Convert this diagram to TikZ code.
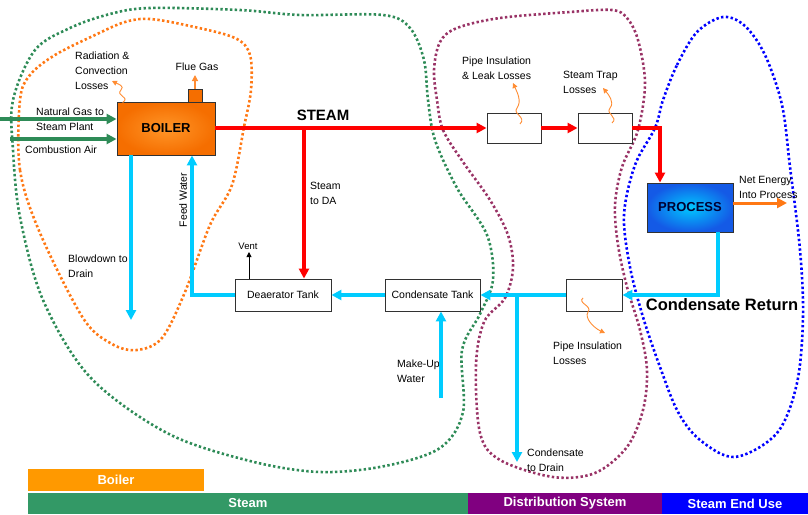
\documentclass[tikz,border=0pt]{standalone}
\usepackage{fontspec}
\setmainfont{Liberation Sans}
\usetikzlibrary{arrows.meta}
\definecolor{cgreen}{RGB}{46,139,87}
\definecolor{corange}{RGB}{255,120,20}
\definecolor{cpurple}{RGB}{153,51,102}
\definecolor{cblue}{RGB}{0,0,255}
\definecolor{ccyan}{RGB}{0,204,255}
\definecolor{cred}{RGB}{255,0,0}
\definecolor{closs}{RGB}{255,140,50}
\definecolor{boxgray}{RGB}{50,50,50}
\definecolor{barorange}{RGB}{255,153,0}
\definecolor{bargreen}{RGB}{51,153,102}
\definecolor{barpurple}{RGB}{128,0,128}
\definecolor{barblue}{RGB}{0,0,255}
\begin{document}
\begin{tikzpicture}[x=1pt,y=-1pt,
  lbl/.style={font=\fontsize{10.5}{15}\selectfont, align=left, inner sep=0pt, anchor=west},
  clbl/.style={font=\fontsize{10.5}{15}\selectfont, align=center, inner sep=0pt},
  tank/.style={draw=boxgray, line width=0.9pt, fill=white, inner sep=0pt, font=\fontsize{10.5}{12}\selectfont},
  pipe/.style={line width=3.5pt},
  tip/.style={-{Triangle[length=10pt,width=10pt]}},
  region/.style={line width=2.6pt, dash pattern=on 2.4pt off 2.4pt},
  loss/.style={draw=closs, line width=0.9pt, -{Triangle[length=5pt,width=5pt]}},
  bar/.style={inner sep=0pt, text=white, font=\bfseries\fontsize{13}{15}\selectfont}
]
\useasboundingbox (0,0) rectangle (808,514);

% ---------- dotted regions ----------
\draw[region, draw=cgreen] plot[smooth cycle, tension=0.55] coordinates {
 (13,100) (13,150) (20,217) (43,300) (90,377) (167,433) (250,461) (320,472) (385,466)
 (440,448) (463,412) (462,350) (480,314) (493,280) (487,235) (457,188) (435,140)
 (428,100) (424,60) (410,28) (383,15) (300,15) (240,10) (150,8) (110,14) (70,28) (35,50)};
\draw[region, draw=corange] plot[smooth cycle, tension=0.55] coordinates {
 (20,100) (20,170) (40,233) (83,318) (112,344) (137,350) (162,338) (185,292) (210,225)
 (232,185) (244,127) (251,90) (250,55) (235,38) (190,26) (150,19) (125,22) (95,35) (55,55) (30,75)};
\draw[region, draw=cpurple] plot[smooth cycle, tension=0.55] coordinates {
 (437,100) (443,130) (463,162) (490,200) (508,235) (513,268) (505,298) (484,322) (476,365)
 (480,433) (500,460) (553,477) (595,473) (627,447) (643,410) (647,370) (640,330)
 (627,287) (618,245) (615,205) (622,167) (638,130) (645,83) (638,40) (627,18) (612,10)
 (570,12) (500,18) (457,28) (440,42) (434,70)};
\draw[region, draw=cblue] plot[smooth cycle, tension=0.55] coordinates {
 (663,100) (677,65) (697,32) (723,17) (745,26) (765,55) (782,105) (790,167) (800,250)
 (803,317) (797,383) (777,433) (735,457) (700,440) (678,412) (660,367) (643,317)
 (630,267) (624,215) (635,165) (655,128)};

% ---------- nodes ----------
\node[draw=boxgray, line width=0.9pt, inner color={rgb,255:red,255;green,150;blue,40},
      outer color={rgb,255:red,245;green,110;blue,0}, minimum width=98pt, minimum height=53pt,
      inner sep=0pt, font=\bfseries\fontsize{13}{15}\selectfont] (boiler) at (166,128.5) {BOILER};
\node[draw=boxgray, line width=0.9pt, fill={rgb,255:red,245;green,110;blue,0},
      minimum width=14pt, minimum height=13pt, inner sep=0pt] (chim) at (195,95.5) {};
\node[draw=boxgray, line width=0.9pt, inner color={rgb,255:red,0;green,200;blue,255},
      outer color={rgb,255:red,20;green,90;blue,230}, minimum width=86pt, minimum height=49pt,
      inner sep=0pt, text={rgb,255:red,0;green,0;blue,50}, font=\bfseries\fontsize{13}{15}\selectfont] (proc) at (690,207.5) {PROCESS};
\node[tank, minimum width=96pt, minimum height=32pt] (da) at (283,295) {Deaerator Tank};
\node[tank, minimum width=95pt, minimum height=32pt] (ct) at (432.5,295) {Condensate Tank};
\node[tank, minimum width=54pt, minimum height=30pt] (p1) at (514,128) {};
\node[tank, minimum width=54pt, minimum height=30pt] (p2) at (605,128) {};
\node[tank, minimum width=56pt, minimum height=32pt] (p3) at (594,295) {};

% ---------- labels ----------
\node[lbl] (trad) at (75,71) {Radiation \&\\Convection\\Losses};
\node[clbl] (tflue) at (197,67) {Flue Gas};
\node[lbl] (tng) at (36,119.5) {Natural Gas to\\Steam Plant};
\node[lbl] (tca) at (25,150) {Combustion Air};
\node[inner sep=0pt, font=\bfseries\fontsize{15}{17}\selectfont] (tsteam) at (323,115) {STEAM};
\node[lbl] (tsda) at (310,193.5) {Steam\\to DA};
\node[clbl, rotate=90] (tfw) at (183,200) {Feed Water};
\node[clbl, font=\fontsize{9.5}{11}\selectfont] (tvent) at (248,246) {Vent};
\node[lbl] (tbd) at (68,266.5) {Blowdown to\\Drain};
\node[lbl] (tmu) at (397,371) {Make-Up\\Water};
\node[lbl] (tcd) at (527,460) {Condensate\\to Drain};
\node[lbl] (tpil) at (553,353.5) {Pipe Insulation\\Losses};
\node[inner sep=0pt, font=\bfseries\fontsize{16.5}{18}\selectfont] (tcr) at (722,305) {Condensate Return};
\node[lbl] (tpll) at (462,68) {Pipe Insulation\\\& Leak Losses};
\node[lbl] (tstl) at (563,82.5) {Steam Trap\\Losses};
\node[lbl] (tne) at (739,187) {Net Energy\\Into Process};

% ---------- coordinates ----------
\coordinate (ng) at (0,119);
\coordinate (ca) at (10,139);
\coordinate (j1) at (304,128);
\coordinate (c1) at (660,128);
\coordinate (ne) at (787,203);
\coordinate (c2) at (718,295);
\coordinate (j2) at (517,295);
\coordinate (drain2) at (517,462);
\coordinate (c3) at (192,295);
\coordinate (bd) at (131,320);
\coordinate (mu) at (441,398);
\coordinate (vent) at (249,252);
\coordinate (flue) at (195,75);
\coordinate (rl) at (112,81);
\coordinate (l1) at (513,83);
\coordinate (l2) at (603,88);
\coordinate (l3) at (605,333);

% ---------- green inputs ----------
\draw[pipe, cgreen, tip] (ng) -- (ng -| boiler.west);
\draw[pipe, cgreen, tip] (ca) -- (ca -| boiler.west);

% ---------- steam ----------
\draw[pipe, cred, tip] (boiler.east |- p1.west) -- (p1.west);
\draw[pipe, cred, tip] (j1) -- (j1 |- da.north);
\draw[pipe, cred, tip] (p1.east) -- (p2.west);
\draw[pipe, cred, tip, line join=miter] (p2.east) -- (c1) -- (c1 |- proc.north);
\draw[line width=3pt, corange, tip] (proc.east |- ne) -- (ne);

% ---------- water ----------
\draw[pipe, ccyan, tip, line join=miter] (c2 |- proc.south) -- (c2) -- (p3.east);
\draw[pipe, ccyan, tip] (p3.west) -- (ct.east);
\draw[pipe, ccyan, tip] (j2) -- (drain2);
\draw[pipe, ccyan, tip] (ct.west) -- (da.east);
\draw[pipe, ccyan, tip, line join=miter] (da.west) -- (c3) -- (c3 |- boiler.south);
\draw[pipe, ccyan, tip] (bd |- boiler.south) -- (bd);
\draw[pipe, ccyan, tip] (mu) -- (mu |- ct.south);

% ---------- small arrows ----------
\draw[black, line width=0.9pt, -{Triangle[length=5pt,width=5pt]}] (vent |- da.north) -- (vent);
\draw[closs, line width=1.2pt, -{Triangle[length=6pt,width=6pt]}] (chim.north) -- (flue);

% ---------- wavy loss arrows ----------
\draw[loss] ([shift={(6,1)}]boiler.north west) .. controls (131,97) and (115,96) .. (121,90)
   .. controls (125,86) and (118,84) .. (rl);
\draw[loss] ([shift={(6,-4)}]p1.center) .. controls (527,117) and (512,114) .. (517,108)
   .. controls (522,101) and (517,92) .. (l1);
\draw[loss] ([shift={(7,-5)}]p2.center) .. controls (619,117) and (605,114) .. (610,108)
   .. controls (615,102) and (608,94) .. (l2);
\draw[loss] ([shift={(-11,3)}]p3.center) .. controls (577,303) and (593,306) .. (588,312)
   .. controls (584,318) and (594,328) .. (l3);

% ---------- bottom bars ----------
\node[bar, fill=barorange, minimum width=176pt, minimum height=22pt] (bboiler) at (116,480) {Boiler};
\node[bar, fill=bargreen, minimum width=440pt, minimum height=21pt] (bsteam) at (248,503.5) {Steam};
\node[bar, fill=barpurple, minimum width=194pt, minimum height=21pt] (bdist) at (565,503.5) {Distribution System};
\node[bar, fill=barblue, minimum width=146pt, minimum height=21pt] (bend) at (735,503.5) {Steam End Use};
\end{tikzpicture}
\end{document}
